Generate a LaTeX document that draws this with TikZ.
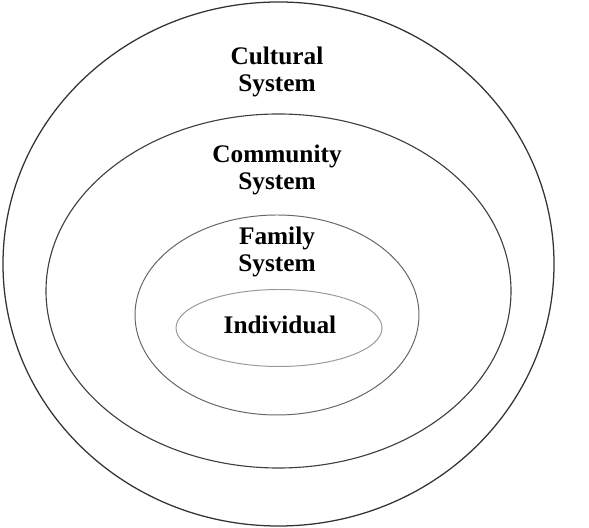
\documentclass[tikz,border=0pt]{standalone}
\usepackage{fontspec}
\setmainfont{Liberation Serif}
\usepackage{xcolor}
\usepackage{tikz}
\usetikzlibrary{shapes.geometric, positioning}

\tikzset{
    ring/.style={ellipse, draw, inner sep=0pt, outer sep=0pt},
    sysname/.style={align=center, font=\fontsize{18}{19.2}\selectfont\bfseries, inner sep=0pt}
}

\begin{document}
\begin{tikzpicture}
    \useasboundingbox (0,0) rectangle (14.725,13.2);

    % Nested system ellipses (outer to inner)
    \node[ring, draw=black!80, line width=0.9pt, minimum width=13.775cm, minimum height=13.1cm] (cultural) at (6.9625,6.6) {};
    \node[ring, draw=black!75, line width=0.8pt, minimum width=11.625cm, minimum height=8.85cm] (community) at (6.9625,5.925) {};
    \node[ring, draw=black!60, line width=0.7pt, minimum width=7.1cm, minimum height=5.0cm] (family) at (6.925,5.325) {};
    \node[ring, draw=black!40, line width=0.7pt, minimum width=5.15cm, minimum height=1.925cm] (individual) at (6.975,5.0) {};

    % Labels
    \node[sysname] (cultLbl) at (6.925,11.41) {Cultural\\System};
    \node[sysname] (commLbl) at (6.925,8.94) {Community\\System};
    \node[sysname] (famLbl) at (6.925,6.89) {Family\\System};
    \node[sysname] (indLbl) at (7.0,5.075) {Individual};
\end{tikzpicture}
\end{document}
